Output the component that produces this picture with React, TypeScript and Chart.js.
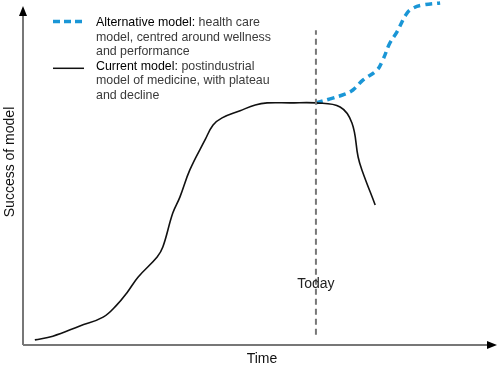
import React, { useEffect, useRef } from "react";
import { Chart, registerables } from "chart.js";

Chart.register(...registerables);

// Time (arbitrary units 0..100) and success (arbitrary units 0..100)
const currentTime = [2.5, 6.3, 12.0, 16.9, 19.8, 21.9, 24.3, 28.3, 29.5, 31.6, 33.1, 35.2, 38.4, 40.1, 42.0, 45.8, 49.0, 51.5, 56.3, 61.8, 66.9, 69.4, 70.7, 71.5, 74.3];
const currentSuccess = [1.5, 2.6, 5.6, 8.2, 11.8, 15.3, 20.0, 25.9, 28.8, 38.8, 43.5, 51.5, 60.3, 64.7, 66.8, 68.9, 70.6, 71.2, 71.2, 71.2, 70.0, 65.3, 55.3, 51.5, 41.2];

const altTime = [61.8, 64.8, 67.9, 69.6, 71.7, 74.7, 75.9, 77.4, 78.9, 81.0, 82.3, 84.4, 88.0];
const altSuccess = [71.2, 72.4, 73.8, 75.0, 77.9, 80.9, 83.8, 88.8, 92.1, 97.6, 99.1, 100.0, 100.6];

const todayTime = 61.8;
const todayRange = [3, 92.6];
const todayLabelLevel = 17.9;

const xAxisTitle = "Time";
const yAxisTitle = "Success of model";
const todayLabel = "Today";
const legendEntries = [
  { key: "Alternative model:", rest: [" health care", "model, centred around wellness", "and performance"] },
  { key: "Current model:", rest: [" postindustrial", "model of medicine, with plateau", "and decline"] },
];

const BLUE = "#1a96d6";
const AXIS = "#777777";
const FONT = '"Liberation Sans", Arial, Helvetica, sans-serif';

const toPts = (xs: number[], ys: number[]) => xs.map((x, i) => ({ x, y: ys[i] }));

const overlayPlugin = {
  id: "overlay",
  afterDraw(chart: any) {
    const { ctx, chartArea } = chart;
    const { left, right, top, bottom } = chartArea;
    const xs = chart.scales.x;
    const ys = chart.scales.y;
    ctx.save();
    // axes
    ctx.strokeStyle = AXIS;
    ctx.lineWidth = 2;
    ctx.setLineDash([]);
    ctx.beginPath();
    ctx.moveTo(left, bottom);
    ctx.lineTo(right - 6, bottom);
    ctx.moveTo(left, bottom);
    ctx.lineTo(left, top + 6);
    ctx.stroke();
    // arrowheads
    ctx.fillStyle = "#000";
    ctx.beginPath();
    ctx.moveTo(right, bottom);
    ctx.lineTo(right - 10, bottom - 4);
    ctx.lineTo(right - 10, bottom + 4);
    ctx.closePath();
    ctx.fill();
    ctx.beginPath();
    ctx.moveTo(left, top + 1);
    ctx.lineTo(left - 4, top + 11);
    ctx.lineTo(left + 4, top + 11);
    ctx.closePath();
    ctx.fill();

    // axis titles
    ctx.fillStyle = "#111";
    ctx.font = `14px ${FONT}`;
    ctx.textAlign = "center";
    ctx.textBaseline = "middle";
    ctx.fillText(xAxisTitle, (left + right) / 2 + 2, bottom + 14);
    ctx.save();
    ctx.translate(10, 162);
    ctx.rotate(-Math.PI / 2);
    ctx.fillText(yAxisTitle, 0, 0);
    ctx.restore();

    // Today label
    ctx.fillStyle = "#222";
    ctx.fillText(todayLabel, xs.getPixelForValue(todayTime), ys.getPixelForValue(todayLabelLevel));

    // legend
    ctx.textAlign = "left";
    ctx.font = `12.4px ${FONT}`;
    const lineH = 14.6;
    const startY = 22.5;
    const textX = 96;
    let row = 0;
    legendEntries.forEach((entry, i) => {
      const y0 = startY + row * lineH;
      ctx.save();
      ctx.beginPath();
      if (i === 0) {
        ctx.strokeStyle = BLUE;
        ctx.lineWidth = 3.5;
        ctx.setLineDash([7, 4]);
        ctx.moveTo(53, y0 - 1);
        ctx.lineTo(84, y0 - 1);
      } else {
        ctx.strokeStyle = "#111";
        ctx.lineWidth = 1.5;
        ctx.moveTo(53, y0 + 2);
        ctx.lineTo(84, y0 + 2);
      }
      ctx.stroke();
      ctx.restore();
      ctx.fillStyle = "#000";
      ctx.fillText(entry.key, textX, y0);
      const w = ctx.measureText(entry.key).width;
      ctx.fillStyle = "#3a3a3a";
      ctx.fillText(entry.rest[0], textX + w, y0);
      for (let k = 1; k < entry.rest.length; k++) {
        ctx.fillText(entry.rest[k], textX, y0 + k * lineH);
      }
      row += entry.rest.length;
    });
    ctx.restore();
  },
};

export default function App() {
  const ref = useRef<HTMLCanvasElement>(null);
  useEffect(() => {
    if (!ref.current) return;
    const chart = new Chart(ref.current, {
      type: "line",
      data: {
        datasets: [
          {
            label: "Today",
            data: [
              { x: todayTime, y: todayRange[0] },
              { x: todayTime, y: todayRange[1] },
            ],
            borderColor: AXIS,
            borderWidth: 2,
            borderDash: [6, 4],
            pointRadius: 0,
            clip: false as any,
          },
          {
            label: "Current model",
            data: toPts(currentTime, currentSuccess),
            borderColor: "#111",
            borderWidth: 1.6,
            pointRadius: 0,
            tension: 0.4,
            clip: false as any,
          },
          {
            label: "Alternative model",
            data: toPts(altTime, altSuccess),
            borderColor: BLUE,
            borderWidth: 3.5,
            borderDash: [7, 5],
            pointRadius: 0,
            tension: 0.4,
            clip: false as any,
          },
        ],
      },
      options: {
        responsive: false,
        animation: false,
        layout: { padding: { left: 23, right: 3, top: 5, bottom: 23 } },
        plugins: { legend: { display: false }, tooltip: { enabled: false } },
        scales: {
          x: { type: "linear", min: 0, max: 100, display: false },
          y: { type: "linear", min: 0, max: 100, display: false },
        },
      },
      plugins: [overlayPlugin],
    });
    return () => chart.destroy();
  }, []);
  return (
    <div style={{ position: "fixed", left: 0, top: 0, width: 500, height: 368, background: "#fff" }}>
      <canvas ref={ref} width={500} height={368} />
    </div>
  );
}
